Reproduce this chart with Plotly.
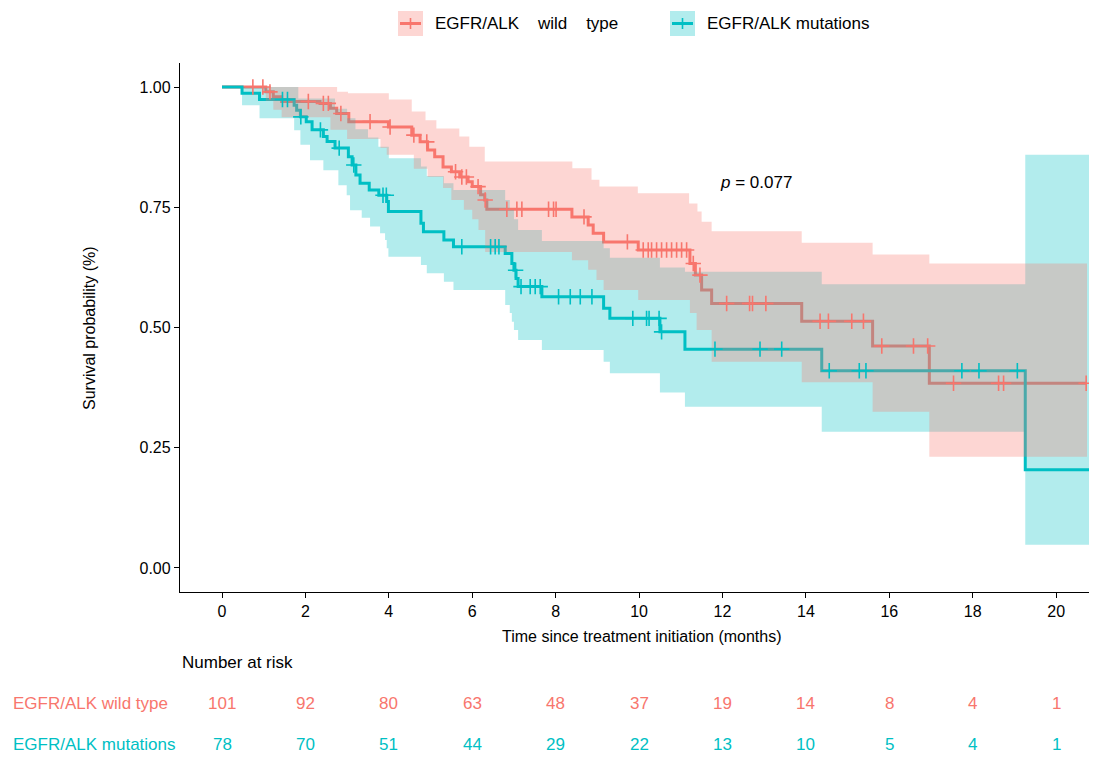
import plotly.graph_objects as go
from bisect import bisect_right

# ---------------- data ----------------
# EGFR/ALK wild type (red)
wt_t = [0, 1.05, 1.23, 1.43, 2.35, 2.6, 2.75, 3.04, 3.99, 4.55, 4.75, 4.93, 5.1, 5.3, 5.5, 5.7,
        5.9, 6.0, 6.2, 6.3, 6.35, 8.39, 8.78, 8.9, 9.15, 9.98, 11.22, 11.35, 11.5, 11.74, 13.9,
        15.6, 16.96]
wt_surv = [1.0, 0.990, 0.980, 0.970, 0.966, 0.956, 0.945, 0.928, 0.917, 0.900, 0.886, 0.869,
           0.855, 0.834, 0.824, 0.813, 0.803, 0.793, 0.776, 0.765, 0.746, 0.730, 0.713, 0.696,
           0.678, 0.661, 0.633, 0.609, 0.578, 0.550, 0.513, 0.4615, 0.384]
wt_end = 20.72
wt_censor = [0.74, 0.98, 1.15, 2.07, 2.43, 2.55, 2.85, 3.55, 4.03, 4.6, 4.91, 5.6, 5.75, 5.86,
             6.14, 6.31, 6.83, 7.07, 7.19, 7.83, 7.95, 8.01, 8.68, 9.72, 10.1, 10.22, 10.3,
             10.42, 10.54, 10.66, 10.78, 10.9, 11.02, 11.14, 11.3, 11.46, 12.1, 12.65, 12.72,
             13.04, 14.34, 14.54, 15.1, 15.38, 15.82, 16.58, 16.92, 17.54, 18.62, 18.74, 20.72]
wt_up_t = [0, 2.76, 3.02, 4.0, 4.55, 4.88, 5.14, 5.69, 5.93, 6.3, 8.4, 8.86, 9.05, 9.97, 11.2,
           11.4, 11.5, 11.74, 13.9, 15.6, 16.96]
wt_upper = [1.0, 0.990, 0.987, 0.974, 0.949, 0.931, 0.914, 0.897, 0.876, 0.845, 0.831, 0.807,
            0.793, 0.779, 0.758, 0.741, 0.720, 0.700, 0.676, 0.652, 0.633]
wt_lo_t = [0, 1.05, 1.23, 1.43, 2.6, 3.0, 3.8, 3.95, 4.6, 4.93, 5.3, 5.5, 5.8, 6.0, 6.15, 6.31,
           8.39, 8.78, 8.98, 9.15, 9.98, 11.22, 11.38, 11.74, 13.9, 15.6, 16.96]
wt_lower = [1.0, 0.971, 0.953, 0.937, 0.911, 0.892, 0.873, 0.859, 0.830, 0.813, 0.790, 0.765,
            0.745, 0.725, 0.703, 0.657, 0.640, 0.620, 0.599, 0.578, 0.557, 0.530, 0.495, 0.429,
            0.386, 0.325, 0.231]
wt_ci_end = 20.74

# EGFR/ALK mutations (teal)
mu_t = [0, 0.48, 0.9, 1.73, 1.79, 1.88, 2.02, 2.16, 2.43, 2.52, 2.71, 3.03, 3.12, 3.21, 3.31,
        3.53, 3.76, 3.95, 3.99, 4.77, 4.83, 5.32, 5.55, 6.79, 6.95, 7.0, 7.05, 7.1, 7.67, 9.15,
        9.3, 10.5, 11.1, 14.38, 19.26]
mu_surv = [1.0, 0.987, 0.974, 0.962, 0.952, 0.938, 0.928, 0.911, 0.897, 0.887, 0.873, 0.855,
           0.838, 0.817, 0.800, 0.786, 0.775, 0.762, 0.741, 0.717, 0.699, 0.682, 0.668, 0.654,
           0.633, 0.619, 0.602, 0.585, 0.564, 0.540, 0.519, 0.491, 0.455, 0.410, 0.204]
mu_end = 21.5
mu_censor = [1.45, 1.57, 1.89, 2.36, 2.81, 3.16, 3.86, 3.94, 5.75, 6.44, 6.55, 6.64, 7.04,
             7.17, 7.39, 7.51, 7.63, 8.07, 8.35, 8.59, 8.87, 9.85, 10.18, 10.24, 10.48, 10.54,
             11.82, 12.9, 13.42, 14.56, 15.28, 15.44, 17.74, 18.15, 19.07]
mu_up_t = [0, 1.83, 2.71, 3.0, 3.2, 3.5, 3.75, 4.0, 4.77, 4.91, 5.32, 5.55, 6.79, 6.9, 7.0, 7.1,
           7.67, 9.15, 9.3, 10.5, 11.1, 14.38, 19.26]
mu_upper = [1.0, 0.976, 0.955, 0.935, 0.912, 0.895, 0.876, 0.852, 0.835, 0.815, 0.800, 0.786,
            0.765, 0.745, 0.725, 0.703, 0.680, 0.665, 0.645, 0.625, 0.616, 0.590, 0.859]
mu_lo_t = [0, 0.48, 0.9, 1.73, 1.88, 2.11, 2.43, 2.79, 2.99, 3.07, 3.35, 3.55, 3.79, 3.91, 3.95,
           3.99, 4.77, 4.91, 5.32, 5.55, 6.79, 6.9, 6.95, 7.0, 7.1, 7.67, 9.15, 9.3, 10.5, 11.1,
           14.38, 19.26]
mu_lower = [1.0, 0.962, 0.935, 0.910, 0.880, 0.848, 0.827, 0.796, 0.775, 0.744, 0.728, 0.710,
            0.696, 0.682, 0.665, 0.647, 0.630, 0.613, 0.595, 0.578, 0.547, 0.530, 0.512, 0.495,
            0.474, 0.453, 0.429, 0.405, 0.365, 0.335, 0.283, 0.048]
mu_ci_end = 21.5

# number at risk
risk_times = [0, 2, 4, 6, 8, 10, 12, 14, 16, 18, 20]
wt_risk = [101, 92, 80, 63, 48, 37, 19, 14, 8, 4, 1]
mu_risk = [78, 70, 51, 44, 29, 22, 13, 10, 5, 4, 1]

x_ticks = [0, 2, 4, 6, 8, 10, 12, 14, 16, 18, 20]
y_ticks = [0, 0.25, 0.5, 0.75, 1.0]

RED = "#F8766D"
TEAL = "#00BFC4"
RED_FILL = "rgba(248,118,109,0.30)"
TEAL_FILL = "rgba(0,191,196,0.30)"
FONT = "Liberation Sans, Arial, sans-serif"


# ---------------- helpers ----------------
def step_path(ts, vals, t_end):
    xs, ys = [], []
    for i, (t, v) in enumerate(zip(ts, vals)):
        t_next = ts[i + 1] if i + 1 < len(ts) else t_end
        xs += [t, t_next]
        ys += [v, v]
    return xs, ys


def ribbon(up_t, up, lo_t, lo, t_end):
    ux, uy = step_path(up_t, up, t_end)
    lx, ly = step_path(lo_t, lo, t_end)
    return ux + lx[::-1], uy + ly[::-1]


def value_at(ts, vals, t):
    return vals[max(bisect_right(ts, t) - 1, 0)]


fig = go.Figure()

# survival step lines
for ts, sv, end, col in [(wt_t, wt_surv, wt_end, RED), (mu_t, mu_surv, mu_end, TEAL)]:
    fig.add_trace(go.Scatter(x=ts + [end], y=sv + [sv[-1]], mode="lines",
                             line=dict(color=col, width=3, shape="hv"),
                             showlegend=False, hoverinfo="skip"))

# confidence ribbons (teal first, red on top)
for args, fc in [((mu_up_t, mu_upper, mu_lo_t, mu_lower, mu_ci_end), TEAL_FILL),
                 ((wt_up_t, wt_upper, wt_lo_t, wt_lower, wt_ci_end), RED_FILL)]:
    rx, ry = ribbon(*args)
    fig.add_trace(go.Scatter(x=rx, y=ry, mode="lines", fill="toself", fillcolor=fc,
                             line=dict(width=0, color="rgba(0,0,0,0)"),
                             showlegend=False, hoverinfo="skip"))

# censor marks
for ts, sv, cens, col in [(wt_t, wt_surv, wt_censor, RED), (mu_t, mu_surv, mu_censor, TEAL)]:
    fig.add_trace(go.Scatter(x=cens, y=[value_at(ts, sv, c) for c in cens], mode="markers",
                             marker=dict(symbol="cross-thin", size=11,
                                         line=dict(color=col, width=1.6)),
                             showlegend=False, hoverinfo="skip"))

# ---------------- layout ----------------
# the page has an 8px body margin, so the figure is shifted by OFF px
OFF = 8
W, H = 1097 - OFF, 761 - 2 * OFF
L, R, T = 180 - OFF, 0, 63 - OFF
B = H - (592 - OFF)
pw, ph = W - L - R, H - T - B


def px(xp):
    return (xp - OFF - L) / pw


def py(yp):
    return (H - B - (yp - OFF)) / ph


annotations = []
# p-value
annotations.append(dict(x=px(718), y=py(183), xref="paper", yref="paper", xanchor="left",
                        yanchor="middle", text="<i>p</i> = 0.077", showarrow=False,
                        font=dict(size=17, color="black", family=FONT)))
# axis titles
annotations.append(dict(x=px(642), y=py(636), xref="paper", yref="paper", xanchor="center",
                        yanchor="middle", text="Time since treatment initiation (months)",
                        showarrow=False, font=dict(size=16, color="black", family=FONT)))
annotations.append(dict(x=px(89), y=py(328), xref="paper", yref="paper", xanchor="center",
                        yanchor="middle", text="Survival probability (%)", textangle=-90,
                        showarrow=False, font=dict(size=16, color="black", family=FONT)))
# number at risk table
annotations.append(dict(x=px(180), y=py(662), xref="paper", yref="paper", xanchor="left",
                        yanchor="middle", text="Number at risk", showarrow=False,
                        font=dict(size=17, color="black", family=FONT)))
for label, risks, col, yp in [("EGFR/ALK wild type", wt_risk, RED, 703),
                              ("EGFR/ALK mutations", mu_risk, TEAL, 745)]:
    annotations.append(dict(x=px(11), y=py(yp), xref="paper", yref="paper", xanchor="left",
                            yanchor="middle", text=label, showarrow=False,
                            font=dict(size=17, color=col, family=FONT)))
    for t, n in zip(risk_times, risks):
        annotations.append(dict(x=t, y=py(yp), xref="x", yref="paper", xanchor="center",
                                yanchor="middle", text=str(n), showarrow=False,
                                font=dict(size=17, color=col, family=FONT)))

# legend (drawn manually)
shapes = []
GAP = "\u00a0" * 4
legend_items = [("EGFR/ALK" + GAP + "wild" + GAP + "type", RED, RED_FILL, 398, 433),
                ("EGFR/ALK mutations", TEAL, TEAL_FILL, 670, 705)]
for text, col, fc, bx, tx in legend_items:
    shapes.append(dict(type="rect", xref="paper", yref="paper", x0=px(bx), x1=px(bx + 25),
                       y0=py(36), y1=py(11), fillcolor=fc, line=dict(width=0), layer="above"))
    shapes.append(dict(type="line", xref="paper", yref="paper", x0=px(bx + 2), x1=px(bx + 23),
                       y0=py(23.5), y1=py(23.5), line=dict(color=col, width=3), layer="above"))
    shapes.append(dict(type="line", xref="paper", yref="paper", x0=px(bx + 12.5),
                       x1=px(bx + 12.5), y0=py(18), y1=py(29), line=dict(color=col, width=1.6),
                       layer="above"))
    annotations.append(dict(x=px(tx), y=py(23.5), xref="paper", yref="paper", xanchor="left",
                            yanchor="middle", text=text, showarrow=False,
                            font=dict(size=17, color="black", family=FONT)))

fig.update_layout(
    width=W, height=H,
    margin=dict(l=L, r=R, t=T, b=B, pad=0),
    paper_bgcolor="white", plot_bgcolor="white",
    showlegend=False,
    font=dict(family=FONT, size=16, color="black"),
    annotations=annotations,
    shapes=shapes,
    xaxis=dict(range=[-1.007, 20.98], tickvals=x_ticks, ticktext=[str(v) for v in x_ticks],
               showgrid=False, zeroline=False, showline=True, linecolor="black", linewidth=1.3,
               ticks="outside", ticklen=5, tickwidth=1.2, tickcolor="black",
               tickfont=dict(size=16, color="black", family=FONT)),
    yaxis=dict(range=[-0.05, 1.05], tickvals=y_ticks, ticktext=[f"{v:.2f}" for v in y_ticks],
               showgrid=False, zeroline=False, showline=True, linecolor="black", linewidth=1.3,
               ticks="outside", ticklen=5, tickwidth=1.2, tickcolor="black",
               tickfont=dict(size=16, color="black", family=FONT)),
)

fig.write_html("out.html")
